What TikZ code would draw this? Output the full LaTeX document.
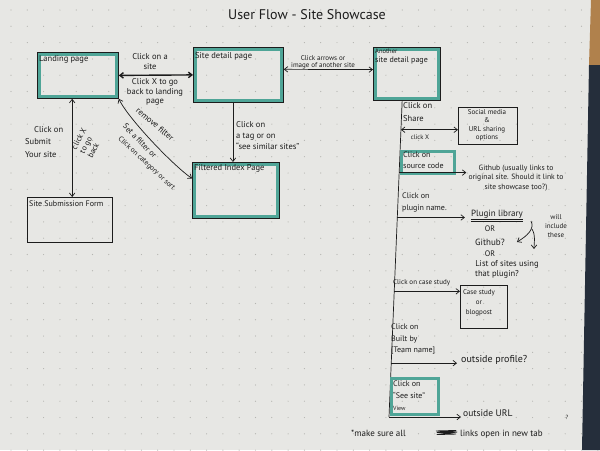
\documentclass[tikz,border=0pt]{standalone}
\usepackage{fontspec}
\setmainfont{PT Sans}
\usetikzlibrary{arrows.meta,calc}
\definecolor{paper}{HTML}{E7E7E4}
\definecolor{marker}{HTML}{4FA597}
\definecolor{ink}{HTML}{1C1C1C}
\definecolor{dotgray}{HTML}{B4B4B0}
\definecolor{desk}{HTML}{252E3B}
\definecolor{wood}{HTML}{B0814C}

\begin{document}
\begin{tikzpicture}[x=1pt,y=-1pt,
  fs/.style 2 args={font=\fontsize{#1}{#2}\selectfont},
  every node/.style={text=ink, inner sep=0pt, fs={8.5}{10}},
  pagebox/.style={draw=ink, line width=0.8pt, anchor=north west, inner sep=0pt},
  notebox/.style={draw=ink, line width=0.7pt, anchor=north west, inner sep=0pt},
  hilite/.style={draw=marker, line width=3pt, anchor=north west, inner sep=0pt},
  flow/.style={draw=ink, line width=0.7pt, -{Straight Barb[length=3.5pt,width=5.5pt]}},
  twoway/.style={draw=ink, line width=0.7pt,
    {Straight Barb[length=3.5pt,width=5.5pt]}-{Straight Barb[length=3.5pt,width=5.5pt]}},
  lbl/.style={align=left, anchor=north west},
]
% paper, dot grid and the desk behind the sheet
\fill[paper] (0,0) rectangle (600,450);
\foreach \i in {0,...,36}
  \foreach \j in {0,...,27}
    \fill[dotgray] (11+16.3*\i, 10+16.3*\j) circle (0.6);
\fill[wood] (591,0) -- (600,0) -- (600,65) -- (589,65) -- cycle;
\fill[desk] (589,65) -- (600,65) -- (600,450) -- (582,450) -- cycle;
\useasboundingbox (0,0) rectangle (600,450);

% title
\node[fs={14}{16}] (title) at (307,15) {User Flow - Site Showcase};

% page boxes
\node[pagebox, minimum width=81pt, minimum height=46pt] (landing) at (37,52) {};
\node[pagebox, minimum width=90pt, minimum height=55pt] (detail) at (193,47) {};
\node[pagebox, minimum width=87pt, minimum height=56pt] (filtered) at (192,162) {};
\node[pagebox, minimum width=67pt, minimum height=53pt] (another) at (373,47) {};
\node[notebox, minimum width=85pt, minimum height=45pt] (form) at (27,197) {};
\foreach \b in {landing,detail,filtered,another}
  \draw[marker, line width=3.5pt]
    ([shift={(2.3,2.3)}]\b.north west) rectangle ([shift={(-2.3,-2.3)}]\b.south east);

% page titles
\node[anchor=west] (landingT) at (39,59) {Landing page};
\node[anchor=west] (detailT) at (195,56) {Site detail page};
\node[lbl, fs={8}{9}] (anotherT) at (375,49) {{\fontsize{6.5}{7}\selectfont Another}\\site detail page};
\node[anchor=west] (filteredT) at (194,168) {Filtered Index Page};
\node[anchor=west, fs={8}{9}] (formT) at (29,204) {Site Submission Form};

% landing <-> site detail
\draw[twoway, line width=1.4pt] (landing.east) -- (detail.west);
\node[align=center, fs={8.5}{10}] (clickSite) at (150,62) {Click on a\\site};
\node[align=center, fs={8.5}{9.3}] (clickBack) at (155,92) {Click X to go\\back to landing\\page};

% site detail <-> another site detail
\draw[twoway] ($(detail.north east)!0.4!(detail.south east)$)
  -- ($(another.north west)!0.42!(another.south west)$);
\node[align=center, fs={7}{6.5}] (clickArrows) at (323,62) {Click arrows or\\image of another site};

% site detail -> filtered index
\coordinate (tagStart) at ($(detail.south west)!0.44!(detail.south east)$);
\draw[flow] (tagStart) -- (tagStart |- filtered.north);
\node[lbl, fs={8.5}{11}] (clickTag) at (236,121) {Click on\\a tag or on\\``see similar sites''};

% landing <-> filtered index
\coordinate (filterEnd) at ($(filtered.north west)!0.29!(filtered.south west)$);
\draw[twoway] (landing.south east) .. controls +(9,19) and +(-20,-14) .. (filterEnd);
\node[rotate=-40, fs={8.5}{10}] (removeFilter) at (155,124) {remove filter};
\node[rotate=-46, fs={8}{10}] (setFilter) at (140,141) {Set a filter or};
\node[rotate=-43, fs={7.2}{10}] (clickCat) at (146.5,163.5) {Click on category or sort};

% landing <-> submission form
\coordinate (submitTop) at ($(landing.south west)!0.43!(landing.south east)$);
\draw[twoway] (submitTop) -- (submitTop |- form.north);
\node[lbl, fs={8.5}{12.5}] (clickSubmit) at (25,126) {\hspace*{9pt}Click on\\Submit\\Your site};
\node[rotate=62, align=left, fs={8}{9}] (clickXback) at (87,143) {click X\\to go\\back};

% trunk below another site detail
\coordinate (trunkTop) at ($(another.south west)!0.43!(another.south east)$);
\coordinate (trunkEnd) at (389,417);
\draw[ink, line width=0.7pt] (trunkTop) -- (trunkEnd);
\coordinate (bShare) at ($(trunkTop)!0.0915!(trunkEnd)$);
\coordinate (bSource) at ($(trunkTop)!0.227!(trunkEnd)$);
\coordinate (bPlugin) at ($(trunkTop)!0.369!(trunkEnd)$);
\coordinate (bCase) at ($(trunkTop)!0.6025!(trunkEnd)$);
\coordinate (bTeam) at ($(trunkTop)!0.8297!(trunkEnd)$);

% share
\node[lbl, fs={8.5}{13.5}] (clickShare) at (403,102) {Click on\\Share};
\node[notebox, minimum width=59pt, minimum height=37pt] (social) at (458,107) {};
\node[align=center, fs={7}{8.5}] (socialT) at (487,125) {Social media\\\&\\URL sharing\\options};
\draw[twoway] (bShare) -- (bShare -| social.west);
\node[fs={6.5}{7}] (shareX) at (420,137) {click X};

% source code
\node[hilite, minimum width=53pt, minimum height=22pt] (source) at (400,150) {};
\node[lbl, fs={8}{10.5}] (sourceT) at (403,152) {Click on\\source code};
\node[align=center, fs={7.6}{9.3}] (github) at (516,178)
  {Github (usually links to\\original site. Should it link to\\site showcase too?)};
\draw[flow] (bSource) -- ([xshift=-2pt]bSource -| github.west);

% plugin name
\node[lbl, fs={8}{12}] (clickPlugin) at (402,193) {Click on\\plugin name.};
\node[fs={9}{10}] (plugin) at (497,214) {Plugin library};
\draw[ink, line width=0.6pt] ([yshift=-1.2pt]plugin.south west) -- ([yshift=-1.2pt]plugin.south east);
\draw[ink, line width=0.6pt] ([yshift=-3pt]plugin.south west) -- ([yshift=-3pt]plugin.south east);
\draw[flow] (bPlugin) -- ([xshift=-6pt]bPlugin -| plugin.west);
\node[fs={8}{9}] (or1) at (490,229) {OR};
\node[fs={9}{10}] (ghq) at (490,242) {Github?};
\node[fs={8}{9}] (or2) at (490,254) {OR};
\node[fs={8.5}{10}] (listSites) at (507,264) {List of sites using};
\node[fs={8.5}{10}] (thatPlugin) at (497,274) {that plugin?};
\node[align=center, fs={7}{9}] (willInclude) at (556,226) {will\\include\\these};
\coordinate (curlA) at (531,221);
\coordinate (curlB) at (532,229);
\draw[flow] (curlA) .. controls (535,229) and (527,236) .. ([xshift=12pt]ghq.east);
\draw[flow] (curlB) .. controls (536,236) and (534,242) .. (534,249);

% case study
\node[anchor=west, fs={7}{8}] (clickCase) at (393,283) {Click on case study};
\node[notebox, minimum width=47pt, minimum height=43pt] (caseBox) at (460,285) {};
\node[align=center, fs={7}{10}] (caseT) at (479,303) {Case study\\or\\blogpost};
\draw[flow] (bCase) -- (bCase -| caseBox.west);

% built by
\node[lbl, fs={8}{11.5}] (clickTeam) at (391,324) {Click on\\Built by\\{[}Team name{]}};
\node[anchor=west, fs={10}{11}] (profile) at (461,360) {outside profile?};
\draw[flow] (bTeam) -- ([xshift=-4pt]bTeam -| profile.west);

% see site
\node[hilite, minimum width=47pt, minimum height=36pt] (seeSite) at (390,377) {};
\node[lbl, fs={8}{12}] (seeSiteT) at (393,381) {Click on\\``See site''\\{\fontsize{6}{7}\selectfont View}};
\node[anchor=west, fs={9.5}{10}] (url) at (463,413) {outside URL};
\draw[flow] (trunkEnd) -- ([xshift=-2pt]trunkEnd -| url.west);

% footnote, with its struck-out word
\node[anchor=west, fs={9}{10}] (noteA) at (351,433) {*make sure all};
\draw[ink, line width=0.9pt, line join=round]
  (436,431) -- (456,430.5) -- (437,432.5) -- (457,432) -- (437,434.5) -- (456,434);
\node[anchor=west, fs={9}{10}] (noteB) at (460,434) {links open in new tab};
\node[fs={6}{7}] (noteQ) at (567,417) {?};
\end{tikzpicture}
\end{document}
